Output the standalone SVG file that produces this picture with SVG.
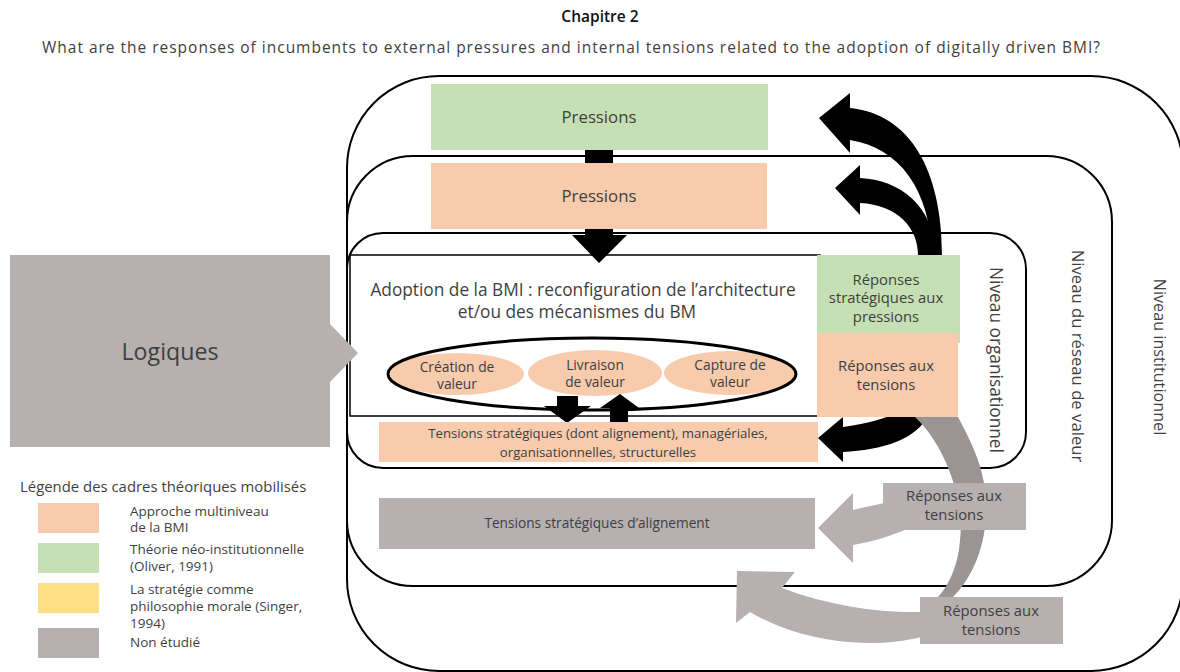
<svg xmlns="http://www.w3.org/2000/svg" width="1180" height="672" viewBox="0 0 1180 672">
<style>
text{font-family:"Open Sans","Noto Sans","Liberation Sans",sans-serif;fill:#3f3f3f}
.frame{fill:none;stroke:#000;stroke-width:2}
.c{text-anchor:middle}
.or{fill:#f7cbac}
.gr{fill:#c5e0b4}
.gy{fill:#b6b0b0}
.yl{fill:#fedf86}
.blk{fill:#000}
.s13{font-size:13.7px}
.s14{font-size:14.8px}
.s12{font-size:13.5px}
.el{font-size:13.8px}
</style>
<rect width="1180" height="672" fill="#fff"/>
<text x="600" y="22" class="c" style="font-size:15.5px;font-weight:600;fill:#111">Chapitre 2</text>
<text x="42" y="53" style="font-size:15.5px" textLength="1058" lengthAdjust="spacing">What are the responses of incumbents to external pressures and internal tensions related to the adoption of digitally driven BMI?</text>

<g id="levels">
<rect id="institutionnel" class="frame" x="347" y="76" width="836" height="595" rx="92" ry="92"/>
<rect id="reseau" class="frame" x="347" y="156" width="765" height="430" rx="66" ry="66"/>
<rect id="organisationnel" class="frame" x="347" y="233" width="679" height="235" rx="36" ry="36"/>
</g>

<g id="labels-niveaux">
<text transform="translate(990,360) rotate(90)" class="c" style="font-size:17.3px">Niveau organisationnel</text>
<text transform="translate(1072,356) rotate(90)" class="c" style="font-size:16.7px">Niveau du réseau de valeur</text>
<text transform="translate(1154,357) rotate(90)" class="c" style="font-size:16.2px">Niveau institutionnel</text>
</g>

<g id="adoption">
<rect x="350" y="255" width="470" height="161" fill="none" stroke="#000" stroke-width="1.5"/>
<text x="583" y="296" class="c" style="font-size:17.3px">Adoption de la BMI : reconfiguration de l’architecture</text>
<text x="577" y="318" class="c" style="font-size:17.3px">et/ou des mécanismes du BM</text>
</g>

<g id="creation">
<ellipse cx="457" cy="374" rx="67" ry="21" class="or"/>
<text x="457" y="372" class="c el">Création de</text>
<text x="457" y="389" class="c el">valeur</text>
</g>
<g id="livraison">
<ellipse cx="595" cy="373" rx="67" ry="23" class="or"/>
<text x="595" y="370" class="c el">Livraison</text>
<text x="595" y="387" class="c el">de valeur</text>
</g>
<g id="capture">
<ellipse cx="730" cy="373" rx="66" ry="22" class="or"/>
<text x="730" y="370" class="c el">Capture de</text>
<text x="730" y="387" class="c el">valeur</text>
</g>
<g id="bm-ellipse">
<ellipse cx="592" cy="374" rx="204" ry="36" fill="none" stroke="#000" stroke-width="3"/>
</g>

<g id="connectors">
<rect x="585" y="148" width="28" height="15" class="blk"/>
<polygon points="585,229 613,229 613,235 627,235 599,263 572,235 585,235" class="blk"/>
<polygon points="557,396 578,396 578,406 591,406 567,423 544,406 557,406" class="blk"/>
<polygon points="610,423 628,423 628,408 639,408 620,394 600,408 610,408" class="blk"/>
<path d="M819,118 L850,93 L850,108 C910,114 942,170 942,255 L932,255 C930,190 900,148 850,140 L850,153 Z" class="blk"/>
<path d="M835,188 L860,165 L860,178 C900,180 933,205 937,255 L918,255 C918,228 898,205 860,203 L860,215 Z" class="blk"/>
<path d="M818,438 L843,417 L843,427 C865,424 888,418 905,410 L930,412 C918,440 882,450 843,452 L843,462 Z" class="blk"/>
<path d="M915,417 C945,445 965,500 960,540 C958,570 945,590 938,597 L953,597 C975,575 988,540 986,500 C984,465 970,440 958,417 Z" fill="#9a9594"/>
<path d="M818,528 L853,493 L853,510 C865,507 878,504 890,502 L905,530 C885,538 870,542 853,545 L853,563 Z" class="gy"/>
<path d="M737,571 L795,572 L782,588 C830,606 880,613 921,612 L921,637 C870,650 800,642 750,612 L736,623 Z" class="gy"/>
</g>

<g id="pressions-inst">
<rect x="431" y="84" width="337" height="66" class="gr"/>
<text x="599" y="123" class="c" style="font-size:16.8px">Pressions</text>
</g>
<g id="pressions-reseau">
<rect x="431" y="163" width="336" height="66" class="or"/>
<text x="599" y="202" class="c" style="font-size:16.8px">Pressions</text>
</g>

<g id="tensions-org">
<rect x="379" y="422" width="439" height="40" class="or"/>
<text x="598" y="438" class="c" style="font-size:13.2px">Tensions stratégiques (dont alignement), managériales,</text>
<text x="598" y="456.5" class="c" style="font-size:13.2px">organisationnelles, structurelles</text>
</g>

<g id="reponses-pressions">
<rect x="817" y="255" width="143" height="88" class="gr"/>
<text x="886" y="285" class="c s14">Réponses</text>
<text x="886" y="303" class="c s14">stratégiques aux</text>
<text x="886" y="322" class="c s14">pressions</text>
</g>
<g id="reponses-tensions-org">
<rect x="817" y="333" width="141" height="84" class="or"/>
<text x="886" y="371" class="c s14">Réponses aux</text>
<text x="886" y="390" class="c s14">tensions</text>
</g>

<g id="tensions-alignement">
<rect x="379" y="498" width="436" height="51" class="gy"/>
<text x="597" y="528" class="c s13">Tensions stratégiques d’alignement</text>
</g>
<g id="reponses-tensions-1">
<rect x="883" y="483" width="143" height="47" class="gy"/>
<text x="954" y="501" class="c s14">Réponses aux</text>
<text x="954" y="520" class="c s14">tensions</text>
</g>
<g id="reponses-tensions-2">
<rect x="920" y="597" width="143" height="47" class="gy"/>
<text x="991" y="616" class="c s14">Réponses aux</text>
<text x="991" y="635" class="c s14">tensions</text>
</g>

<g id="logiques">
<polygon points="10,255 330,255 330,324 358,353 330,382 330,447 10,447" class="gy"/>
<text x="170" y="360" class="c" style="font-size:23.2px">Logiques</text>
</g>

<g id="legende">
<text x="20" y="492" style="font-size:14.9px">Légende des cadres théoriques mobilisés</text>
<rect x="38" y="503" width="61" height="30" class="or"/>
<rect x="38" y="543" width="61" height="30" class="gr"/>
<rect x="38" y="583" width="61" height="30" class="yl"/>
<rect x="38" y="628" width="61" height="30" class="gy"/>
<text x="130" y="516" class="s12">Approche multiniveau</text>
<text x="130" y="532" class="s12">de la BMI</text>
<text x="130" y="554" class="s12">Théorie néo-institutionnelle</text>
<text x="130" y="571" class="s12">(Oliver, 1991)</text>
<text x="130" y="594" class="s12">La stratégie comme</text>
<text x="130" y="611" class="s12">philosophie morale (Singer,</text>
<text x="130" y="628" class="s12">1994)</text>
<text x="130" y="647" class="s12">Non étudié</text>
</g>
</svg>
